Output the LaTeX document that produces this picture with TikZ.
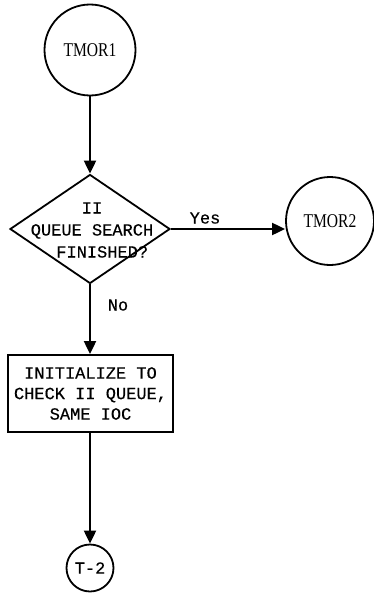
\documentclass[tikz,border=0pt]{standalone}
\usepackage{fontspec}
\setmainfont{Liberation Serif}
\newfontfamily\monof[FakeBold=0.4]{Liberation Mono}
\newfontfamily\condserif[FakeStretch=0.8]{Liberation Serif}
\usetikzlibrary{shapes.geometric,arrows.meta}
\begin{document}
\begin{tikzpicture}[x=1pt,y=-1pt,
  conn/.style={line width=2pt,-{Triangle[length=13pt,width=12pt]}},
  term/.style={circle,draw,line width=1.8pt,inner sep=0pt,font=\condserif\fontsize{19.5}{22}\selectfont},
  mtext/.style={font=\monof\fontsize{17}{20.5}\selectfont},
  dtext/.style={font=\monof\fontsize{17}{22}\selectfont,align=center},
  decision/.style={diamond,draw,line width=1.8pt,inner sep=0pt,minimum width=160pt,minimum height=109pt},
  procbox/.style={draw,line width=1.8pt,align=center,minimum width=165pt,minimum height=77pt,mtext}
]
\useasboundingbox (0,0) rectangle (373,594);
\node[term,minimum size=91pt] (t1) at (90,50) {TMOR1};
\node[decision] (d) at (90,229) {};
\node[dtext] (dt) at (92,230) {II\\QUEUE SEARCH\\\phantom{XX}FINISHED?};
\node[term,minimum size=88pt] (t2) at (330,221) {TMOR2};
\node[procbox] (b) at (90.5,393.5) {INITIALIZE TO\\CHECK II QUEUE,\\SAME IOC};
\node[circle,draw,line width=1.8pt,minimum size=47pt,inner sep=0pt,mtext] (t3) at (90,568) {T-2};
\node[mtext] (yes) at (205,218) {Yes};
\node[mtext] (no) at (118,305) {No};
\draw[conn] (t1.south) -- (d.north);
\draw[conn] (d.east) -- (d.east -| t2.west);
\draw[conn] (d.south) -- (d.south |- b.north);
\draw[conn] (b.south -| t3.north) -- (t3.north);
\end{tikzpicture}
\end{document}
